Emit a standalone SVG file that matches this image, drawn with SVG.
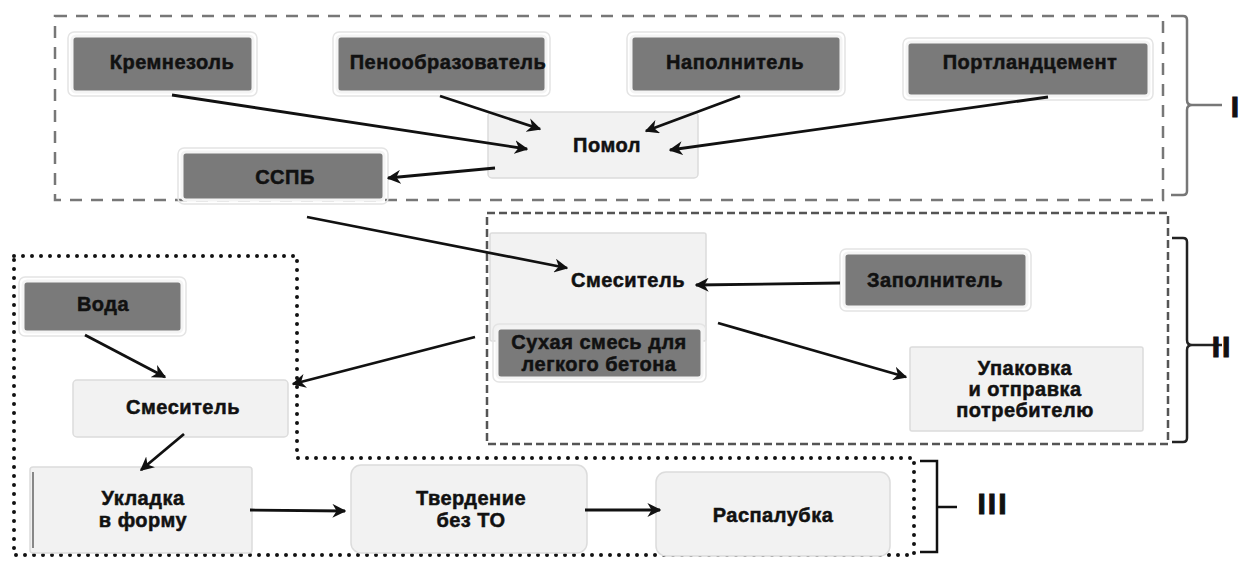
<svg xmlns="http://www.w3.org/2000/svg" width="1245" height="562" viewBox="0 0 1245 562">
<defs>
<style>
text{font-family:"Liberation Sans",Arial,sans-serif;font-weight:bold;font-size:20px;letter-spacing:0.5px;fill:#111;stroke:#111;stroke-width:0.5;text-anchor:middle;dominant-baseline:central}
.dark{fill:#7a7a7a;stroke:#f4f4f4;stroke-width:3}
.darkouter{fill:none;stroke:#e4e4e4;stroke-width:1.5}
.light{fill:#f2f2f2;stroke:#dcdcdc;stroke-width:1.5}
.edge{fill:none;stroke:#111;stroke-width:2.8;marker-end:url(#ah)}
.roman{font-size:30px;letter-spacing:2px;stroke-width:1}
</style>
<marker id="ah" viewBox="0 0 10 10" refX="9" refY="5" markerWidth="5" markerHeight="5" orient="auto" markerUnits="strokeWidth">
<path d="M0,0 L10,5 L0,10 L3,5 z" fill="#111"/>
</marker>
</defs>
<rect width="1245" height="562" fill="#fff"/>

<g id="sections">
<rect x="55" y="16" width="1108" height="184" fill="none" stroke="#777" stroke-width="2.5" stroke-dasharray="12 9"/>
<path d="M1171,16 H1183 Q1187,16 1187,20 V100 Q1187,105 1192,105 H1222 M1192,105 Q1187,105 1187,110 V191 Q1187,195 1183,195 H1171" fill="none" stroke="#777" stroke-width="2.5"/>
<text class="roman" x="1236" y="106">I</text>

<rect x="487" y="213" width="681" height="231" fill="none" stroke="#555" stroke-width="2.5" stroke-dasharray="8 4"/>
<path d="M1172,238 H1183 Q1187,238 1187,242 V340 Q1187,345 1192,345 H1222 M1192,345 Q1187,345 1187,350 V438 Q1187,442 1183,442 H1172" fill="none" stroke="#222" stroke-width="2.5"/>
<text class="roman" x="1222" y="346">II</text>

<path d="M14,256 H297 V458 H914 V555 H14 Z" fill="none" stroke="#111" stroke-width="4" stroke-linecap="round" stroke-dasharray="0 9"/>
<path d="M920,461 H937 V552 H920 M937,507 H957" fill="none" stroke="#111" stroke-width="2.5"/>
<text class="roman" x="993" y="503">III</text>
</g>

<g id="n-kremnezol"><rect class="darkouter" x="68" y="32" width="189" height="64" rx="6"/><rect class="dark" x="72" y="36" width="181" height="56" rx="4"/><text x="172" y="62">Кремнезоль</text></g>
<g id="n-penoobr"><rect class="darkouter" x="333" y="32" width="217" height="64" rx="6"/><rect class="dark" x="337" y="36" width="209" height="56" rx="4"/><text x="448" y="62">Пенообразователь</text></g>
<g id="n-napoln"><rect class="darkouter" x="627" y="32" width="218" height="64" rx="6"/><rect class="dark" x="631" y="36" width="210" height="56" rx="4"/><text x="735" y="62">Наполнитель</text></g>
<g id="n-portland"><rect class="darkouter" x="903" y="38" width="250" height="62" rx="6"/><rect class="dark" x="907" y="42" width="242" height="54" rx="4"/><text x="1030" y="62">Портландцемент</text></g>
<g id="n-pomol"><rect class="light" x="488" y="112" width="210" height="66" rx="4"/><text x="607" y="145">Помол</text></g>
<g id="n-sspb"><rect class="darkouter" x="178" y="148" width="210" height="56" rx="6"/><rect class="dark" x="182" y="152" width="202" height="48" rx="4"/><text x="285" y="177">ССПБ</text></g>

<g id="n-smesitel2"><rect class="light" x="490" y="233" width="216" height="108" rx="2"/><text x="628" y="280">Смеситель</text></g>
<g id="n-sukhaya"><rect class="darkouter" x="493" y="324" width="213" height="58" rx="6"/><rect class="dark" x="497" y="328" width="205" height="50" rx="4"/><text x="599" y="342" letter-spacing="0">Сухая смесь для</text><text x="599" y="364" letter-spacing="0">легкого бетона</text></g>
<g id="n-zapoln"><rect class="darkouter" x="840" y="249" width="191" height="62" rx="6"/><rect class="dark" x="844" y="253" width="183" height="54" rx="4"/><text x="935" y="280">Заполнитель</text></g>
<g id="n-upakovka"><rect class="light" x="910" y="347" width="233" height="84" rx="2" stroke="#aaa"/><text x="1025" y="368">Упаковка</text><text x="1025" y="389">и отправка</text><text x="1025" y="410">потребителю</text></g>

<g id="n-voda"><rect class="darkouter" x="19" y="277" width="167" height="59" rx="6"/><rect class="dark" x="23" y="281" width="159" height="51" rx="4"/><text x="103" y="304">Вода</text></g>
<g id="n-smesitel1"><rect class="light" x="73" y="380" width="215" height="57" rx="4"/><text x="183" y="407">Смеситель</text></g>
<g id="n-ukladka"><rect class="light" x="30" y="467" width="222" height="86" rx="3"/><line x1="33" y1="472" x2="33" y2="548" stroke="#888" stroke-width="2"/><text x="143" y="498">Укладка</text><text x="143" y="520">в форму</text></g>
<g id="n-tverdenie"><rect class="light" x="351" y="465" width="236" height="88" rx="10"/><text x="471" y="498">Твердение</text><text x="471" y="520">без ТО</text></g>
<g id="n-raspalubka"><rect class="light" x="656" y="472" width="234" height="84" rx="10"/><text x="773" y="515">Распалубка</text></g>

<g id="connectors">
<path class="edge" d="M172,95 L527,149"/>
<path class="edge" d="M440,96 L540,129"/>
<path class="edge" d="M740,96 L646,131"/>
<path class="edge" d="M1048,97 L670,150"/>
<path class="edge" d="M495,168 L388,178"/>
<path class="edge" d="M307,217 L567,268"/>
<path class="edge" d="M840,283 L696,285"/>
<path class="edge" d="M475,337 L293,384"/>
<path class="edge" d="M718,323 L906,377"/>
<path class="edge" d="M85,335 L165,377"/>
<path class="edge" d="M184,434 L141,470"/>
<path class="edge" d="M250,510 L345,511"/>
<path class="edge" d="M585,510 L660,510"/>
</g>
</svg>
